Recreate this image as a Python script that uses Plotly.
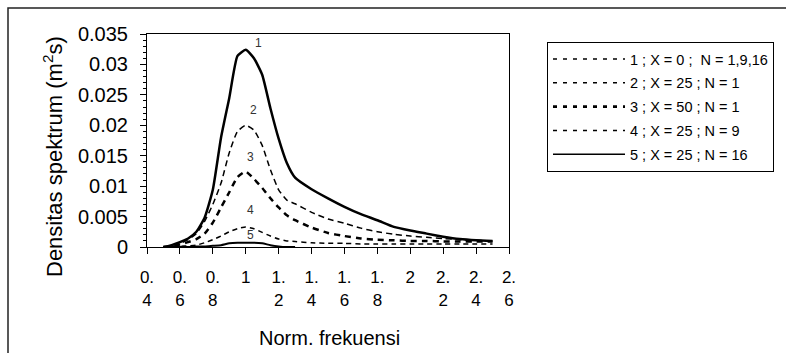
import plotly.graph_objects as go

# Data
freq = [0.5, 0.55, 0.6, 0.65, 0.7, 0.75, 0.8, 0.85, 0.9, 0.95, 1.0, 1.05, 1.1, 1.15,
        1.2, 1.25, 1.3, 1.4, 1.5, 1.6, 1.7, 1.8, 1.9, 2.0, 2.1, 2.2, 2.3, 2.4, 2.5]

s1 = [0.0, 0.0003, 0.0008, 0.0014, 0.0025, 0.0048, 0.0094, 0.018, 0.0245, 0.0314, 0.0324,
      0.031, 0.0283, 0.0228, 0.0178, 0.0138, 0.0114, 0.0095, 0.008, 0.0066, 0.0054,
      0.0044, 0.0033, 0.0027, 0.0022, 0.0017, 0.0013, 0.0011, 0.001]
s2 = [0.0, 0.0002, 0.0006, 0.0012, 0.0022, 0.0042, 0.007, 0.0105, 0.0155, 0.019, 0.020,
      0.0192, 0.0167, 0.0127, 0.0094, 0.0077, 0.0071, 0.0057, 0.0046, 0.0039, 0.0031,
      0.0025, 0.0021, 0.0018, 0.0016, 0.0014, 0.0012, 0.0011, 0.001]
s3 = [0.0, 0.0001, 0.0004, 0.0008, 0.0013, 0.0022, 0.004, 0.0065, 0.009, 0.0115, 0.0124,
      0.0112, 0.0097, 0.008, 0.0065, 0.0052, 0.0044, 0.0032, 0.0023, 0.0018, 0.0014,
      0.0012, 0.0011, 0.001, 0.001, 0.0009, 0.0009, 0.0009, 0.0009]
s4 = [0.0, 0.0, 0.0001, 0.0002, 0.0003, 0.0007, 0.0012, 0.0018, 0.0025, 0.003, 0.0033,
      0.003, 0.0024, 0.0018, 0.0013, 0.001, 0.0009, 0.0007, 0.0006, 0.0006, 0.0005,
      0.0005, 0.0005, 0.0005, 0.0005, 0.0005, 0.0005, 0.0005, 0.0005]
s5 = [0.0, 0.0, 0.0, 0.0, 0.0001, 0.0001, 0.0002, 0.0003, 0.0006, 0.0007, 0.0007,
      0.0007, 0.0006, 0.0003, 0.0001, 0.0, 0.0, None, None, None, None,
      None, None, None, None, None, None, None, None]

series = [s1, s2, s3, s4, s5]
legend_names = ["1 ; X = 0 ;  N = 1,9,16", "2 ; X = 25 ; N = 1", "3 ; X = 50 ; N = 1",
                "4 ; X = 25 ; N = 9", "5 ; X = 25 ; N = 16"]
curve_labels = ["1", "2", "3", "4", "5"]
label_x = [1.075, 1.05, 1.03, 1.03, 1.03]
label_y = [0.0335, 0.0225, 0.0148, 0.0061, 0.0019]

x_ticks = [0.4, 0.6, 0.8, 1.0, 1.2, 1.4, 1.6, 1.8, 2.0, 2.2, 2.4, 2.6]
x_ticktext = ["0.<br>4", "0.<br>6", "0.<br>8", "1", "1.<br>2", "1.<br>4", "1.<br>6",
              "1.<br>8", "2", "2.<br>2", "2.<br>4", "2.<br>6"]
y_ticks = [0, 0.005, 0.01, 0.015, 0.02, 0.025, 0.03, 0.035]
y_ticktext = ["0", "0.005", "0.01", "0.015", "0.02", "0.025", "0.03", "0.035"]

# Styles
plot_dash = ["solid", "6px,4px", "6px,5px", "5px,4px", "solid"]
plot_width = [2.5, 1.5, 2.5, 1.5, 2]
legend_dash = ["4px,6px", "4px,6px", "4px,6px", "4px,6px", "solid"]
legend_width = [1.5, 1.5, 2.8, 1.5, 1.5]

fig = go.Figure()
for i, ys in enumerate(series):
    fig.add_trace(go.Scatter(
        x=freq, y=ys, mode="lines", name=legend_names[i], legendgroup=f"g{i}",
        showlegend=False, connectgaps=False,
        line=dict(color="black", width=plot_width[i], dash=plot_dash[i], shape="spline", smoothing=0.5),
    ))
for i in range(len(series)):
    fig.add_trace(go.Scatter(
        x=[None], y=[None], mode="lines", name=legend_names[i], legendgroup=f"g{i}",
        showlegend=True,
        line=dict(color="black", width=legend_width[i], dash=legend_dash[i]),
    ))

W, H = 786, 353
L, R, T, B = 147, 509, 34, 247
pw, ph = R - L, B - T

def px_x(p):
    return (p - L) / pw

def px_y(p):
    return (B - p) / ph

for i, t in enumerate(curve_labels):
    fig.add_annotation(x=label_x[i], y=label_y[i], text=t, showarrow=False,
                       font=dict(size=12, color="#333", family="Liberation Sans, Arial"))

fig.add_annotation(xref="paper", yref="paper", x=px_x(53), y=px_y(157),
                   xanchor="center", yanchor="middle",
                   text="Densitas spektrum (m<sup>2</sup>s)", textangle=-90, showarrow=False,
                   font=dict(size=22, color="black", family="Liberation Sans, Arial"))
fig.add_annotation(xref="paper", yref="paper", x=px_x(329), y=px_y(338),
                   xanchor="center", yanchor="middle",
                   text="Norm. frekuensi", showarrow=False,
                   font=dict(size=20, color="black", family="Liberation Sans, Arial"))

fig.add_shape(type="rect", xref="paper", yref="paper",
              x0=px_x(8), x1=px_x(800), y0=px_y(370), y1=px_y(8),
              line=dict(color="#222", width=1.5), layer="below")

fig.update_layout(
    width=W, height=H,
    margin=dict(l=L, r=W - R, t=T, b=H - B),
    paper_bgcolor="white", plot_bgcolor="white",
    font=dict(family="Liberation Sans, Arial", color="black"),
    showlegend=True,
    legend=dict(
        x=px_x(547), y=px_y(42), xanchor="left", yanchor="top",
        bordercolor="black", borderwidth=1, bgcolor="white",
        font=dict(size=14.5, color="black", family="Liberation Sans, Arial"),
        tracegroupgap=2, traceorder="grouped", itemwidth=72,
    ),
    xaxis=dict(
        range=[0.4, 2.6], tickmode="array", tickvals=x_ticks, ticktext=x_ticktext,
        showgrid=False, zeroline=False, showline=True, linecolor="black", linewidth=1,
        mirror=True, ticks="outside", ticklen=6, tickcolor="black",
        tickfont=dict(size=17, color="black"), ticklabelstandoff=9,
    ),
    yaxis=dict(
        range=[0, 0.035], tickmode="array", tickvals=y_ticks, ticktext=y_ticktext,
        showgrid=False, zeroline=False, showline=True, linecolor="black", linewidth=1,
        mirror=True, ticks="outside", ticklen=6, tickcolor="black",
        tickfont=dict(size=20, color="black"), ticklabelstandoff=8,
        minor=dict(ticks="outside", ticklen=3, dtick=0.001, tickcolor="black", showgrid=False),
    ),
)

fig.write_html("out.html")
